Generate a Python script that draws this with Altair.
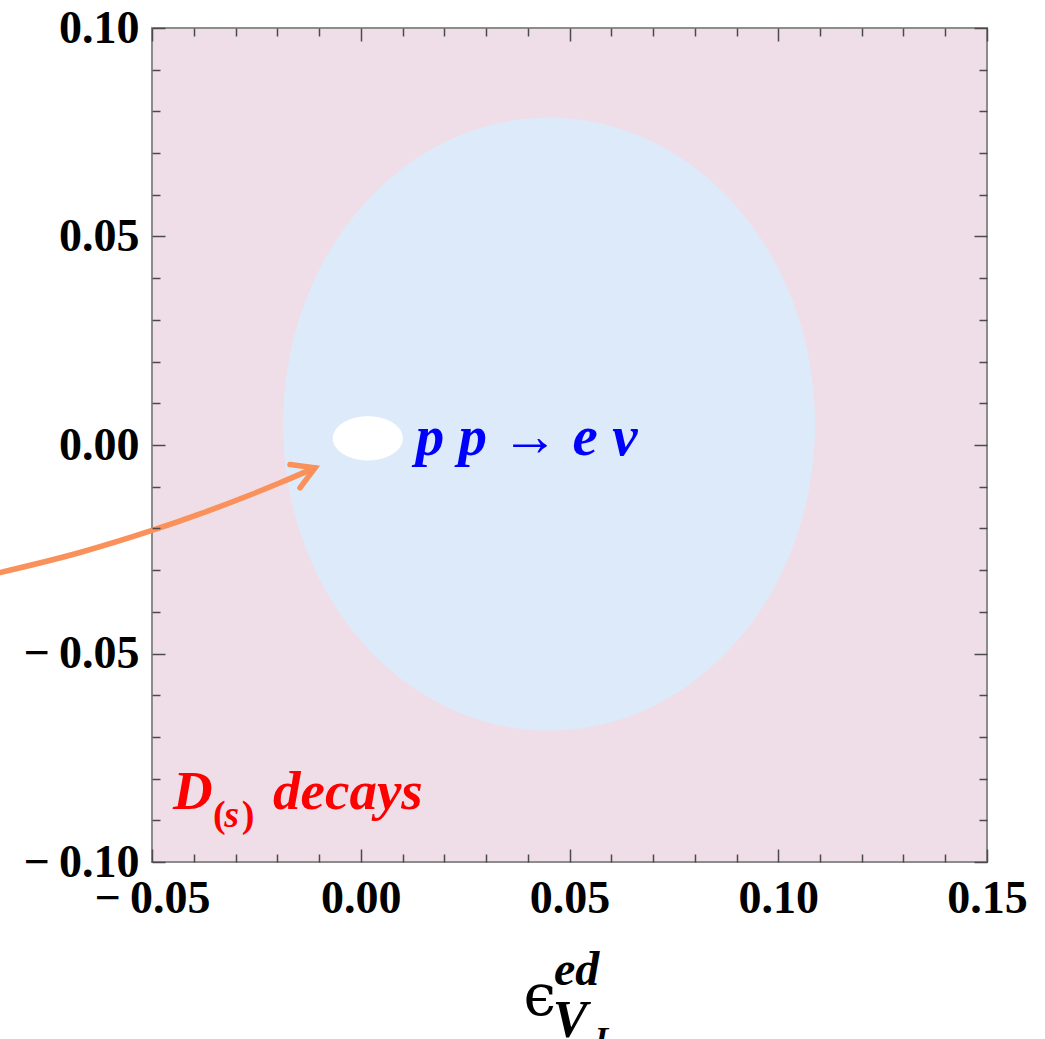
import numpy as np
import pandas as pd
import altair as alt

# ---------------- data ----------------
X_DOMAIN = [-0.05, 0.15]
Y_DOMAIN = [-0.10, 0.10]
X_MAJOR = [-0.05, 0.0, 0.05, 0.10, 0.15]
Y_MAJOR = [-0.10, -0.05, 0.0, 0.05, 0.10]
X_MINOR = [-0.04, -0.03, -0.02, -0.01, 0.01, 0.02, 0.03, 0.04,
           0.06, 0.07, 0.08, 0.09, 0.11, 0.12, 0.13, 0.14]
Y_MINOR = [-0.09, -0.08, -0.07, -0.06, -0.04, -0.03, -0.02, -0.01,
           0.01, 0.02, 0.03, 0.04, 0.06, 0.07, 0.08, 0.09]

# allowed regions (centre, semi-axes)
PP_CENTER = [0.0451, 0.0050]
PP_RADII = [0.0637, 0.0735]
BOTH_CENTER = [0.0017, 0.0016]
BOTH_RADII = [0.0084, 0.0053]

# arrow path (data coordinates)
ARROW_X = [-0.0912, -0.08641, -0.06725, -0.05, -0.0385, -0.02653, -0.01934, -0.01096]
ARROW_Y = [-0.03168, -0.03058, -0.02578, -0.0205, -0.01652, -0.01199, -0.00906, -0.00547]
HEAD_X = [-0.01695, -0.01096, -0.01455]
HEAD_Y = [-0.00468, -0.00547, -0.01026]

W, H = 835, 834
PINK = "#efdee7"
BLUE = "#ddeaf9"
ORANGE = "#fa905a"
SERIF = "Liberation Serif"

xs = alt.Scale(domain=X_DOMAIN, nice=False, zero=False)
ys = alt.Scale(domain=Y_DOMAIN, nice=False, zero=False)


def ellipse_df(center, radii, n=240):
    t = np.linspace(0, np.pi, n)
    x = center[0] + radii[0] * np.cos(t)
    dy = radii[1] * np.sin(t)
    return pd.DataFrame({"x": x, "y": center[1] + dy, "y2": center[1] - dy})


def region(center, radii, color):
    return alt.Chart(ellipse_df(center, radii)).mark_area(
        color=color, opacity=1, clip=False
    ).encode(
        x=alt.X("x:Q", scale=xs, axis=None),
        y=alt.Y("y:Q", scale=ys, axis=None),
        y2="y2:Q",
    )


def label(text, x, y, size, color, style="italic", weight="bold", font=SERIF):
    df = pd.DataFrame({"x": [x], "y": [y], "t": [text]})
    return alt.Chart(df).mark_text(
        font=font, fontSize=size, fontStyle=style, fontWeight=weight,
        color=color, align="left", baseline="alphabetic", clip=False
    ).encode(
        x=alt.X("x:Q", scale=xs, axis=None),
        y=alt.Y("y:Q", scale=ys, axis=None),
        text="t:N",
    )


curve = alt.Chart(pd.DataFrame({"x": ARROW_X, "y": ARROW_Y})).mark_line(
    color=ORANGE, strokeWidth=5.5, strokeCap="round", interpolate="monotone", clip=False
).encode(
    x=alt.X("x:Q", scale=xs, axis=None),
    y=alt.Y("y:Q", scale=ys, axis=None),
)
head = alt.Chart(pd.DataFrame({"x": HEAD_X, "y": HEAD_Y,
                               "o": list(range(len(HEAD_X)))})).mark_line(
    color=ORANGE, strokeWidth=5.5, strokeCap="round", strokeJoin="miter", clip=False
).encode(
    x=alt.X("x:Q", scale=xs, axis=None),
    y=alt.Y("y:Q", scale=ys, axis=None),
    order="o:Q",
)

content = alt.layer(
    region(PP_CENTER, PP_RADII, BLUE),
    region(BOTH_CENTER, BOTH_RADII, "white"),
    curve, head,
    label("p p \u2192 e \u03bd", 0.0132, -0.0023, 57, "#0000ff"),
    label("D", -0.045, -0.0874, 55, "#ff0000"),
    label("(", -0.0354, -0.0915, 38, "#ff0000", style="normal"),
    label("s", -0.0327, -0.0915, 38, "#ff0000"),
    label(")", -0.0285, -0.0915, 38, "#ff0000", style="normal"),
    label("decays", -0.0210, -0.0874, 55, "#ff0000"),
    label("\u03f5", 0.0390, -0.1366, 58, "black", style="normal", weight="normal",
          font="DejaVu Serif"),
    label("ed", 0.0463, -0.1294, 48, "black"),
    label("V", 0.0460, -0.1419, 52, "black"),
    label("L", 0.0560, -0.1450, 34, "black"),
)

dummy = pd.DataFrame({"x": [0.0], "y": [0.0]})
MINUS_GAP = "replace(datum.label, '\u2212', '\u2212\u2009')"

labels = alt.Chart(dummy).mark_point(opacity=0).encode(
    x=alt.X("x:Q", scale=xs, axis=alt.Axis(
        orient="bottom", values=X_MAJOR, format=".2f", labelExpr=MINUS_GAP,
        ticks=False, domain=False,
        grid=False, labelFont=SERIF, labelFontSize=46, labelFontWeight="bold",
        labelColor="black", labelPadding=14, labelFlush=False,
        labelOverlap=False, title=None)),
    y=alt.Y("y:Q", scale=ys, axis=alt.Axis(
        orient="left", values=Y_MAJOR, format=".2f", labelExpr=MINUS_GAP,
        ticks=False, domain=False,
        grid=False, labelFont=SERIF, labelFontSize=46, labelFontWeight="bold",
        labelColor="black", labelPadding=13, labelFlush=False,
        labelOverlap=False, title=None)),
)


def xticks(values, orient, size):
    return alt.Chart(dummy).mark_point(opacity=0).encode(
        x=alt.X("x:Q", scale=xs, axis=alt.Axis(
            orient=orient, offset=-H, values=values, labels=False, domain=False,
            grid=False, ticks=True, tickSize=size, tickColor="#4a4a4a",
            tickWidth=1.5, title=None, zindex=1)),
        y=alt.Y("y:Q", scale=ys, axis=None),
    )


def yticks(values, orient, size):
    return alt.Chart(dummy).mark_point(opacity=0).encode(
        x=alt.X("x:Q", scale=xs, axis=None),
        y=alt.Y("y:Q", scale=ys, axis=alt.Axis(
            orient=orient, offset=-W, values=values, labels=False, domain=False,
            grid=False, ticks=True, tickSize=size, tickColor="#4a4a4a",
            tickWidth=1.5, title=None, zindex=1)),
    )


chart = alt.layer(
    content, labels,
    xticks(X_MAJOR, "top", 13), xticks(X_MINOR, "top", 8),
    xticks(X_MAJOR, "bottom", 13), xticks(X_MINOR, "bottom", 8),
    yticks(Y_MAJOR, "left", 13), yticks(Y_MINOR, "left", 8),
    yticks(Y_MAJOR, "right", 13), yticks(Y_MINOR, "right", 8),
).resolve_scale(x="independent", y="independent").properties(
    width=W, height=H,
    autosize=alt.AutoSizeParams(type="none"),
    padding={"left": 152, "top": 28, "right": 58, "bottom": 177},
).configure_view(fill=PINK, stroke="#8c8c8c", strokeWidth=2)

chart.save("out.html", embed_options={"renderer": "svg", "actions": False})
